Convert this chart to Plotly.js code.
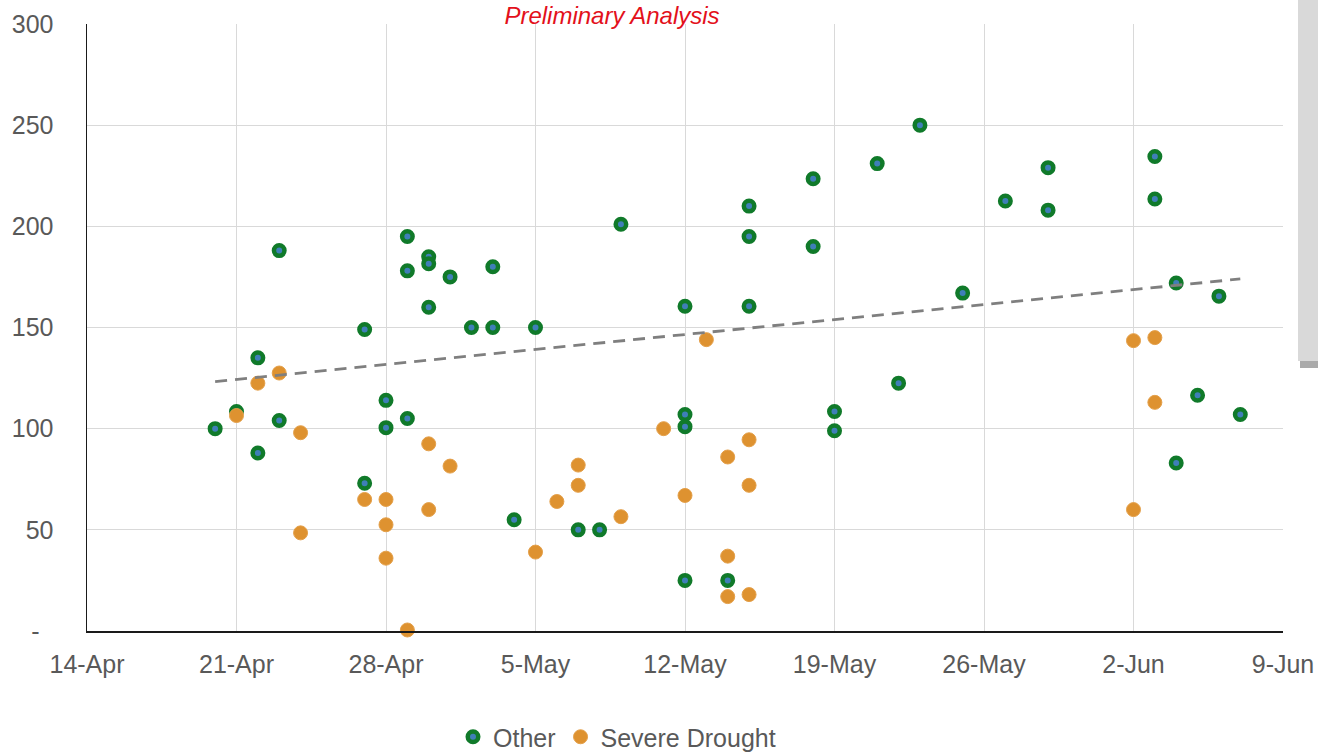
<!DOCTYPE html>
<html>
<head>
<meta charset="utf-8">
<script src="https://cdn.plot.ly/plotly-3.0.1.min.js"></script>
<style>
  html, body { margin: 0; padding: 0; background: #ffffff; }
  #chart { width: 1318px; height: 755px; }
</style>
</head>
<body>
<div id="chart"></div>
<script>
// ---- Data ----
const otherDates = [
  "2021-04-20","2021-04-21","2021-04-22","2021-04-22","2021-04-23","2021-04-23",
  "2021-04-27","2021-04-27","2021-04-28","2021-04-28","2021-04-29","2021-04-29","2021-04-29",
  "2021-04-30","2021-04-30","2021-04-30","2021-05-01","2021-05-02","2021-05-03","2021-05-03",
  "2021-05-04","2021-05-05","2021-05-07","2021-05-08","2021-05-09",
  "2021-05-12","2021-05-12","2021-05-12","2021-05-12","2021-05-14",
  "2021-05-15","2021-05-15","2021-05-15","2021-05-18","2021-05-18","2021-05-19","2021-05-19",
  "2021-05-21","2021-05-22","2021-05-23","2021-05-25","2021-05-27","2021-05-29","2021-05-29",
  "2021-06-03","2021-06-03","2021-06-04","2021-06-04","2021-06-05","2021-06-06","2021-06-07"
];
const otherValues = [
  100, 108.5, 135, 88, 188, 104,
  149, 73, 114, 100.5, 195, 178, 105,
  185, 181.5, 160, 175, 150, 180, 150,
  55, 150, 50, 50, 201,
  160.5, 107, 101, 25, 25,
  210, 195, 160.5, 223.5, 190, 108.5, 99,
  231, 122.5, 250, 167, 212.5, 229, 208,
  234.5, 213.5, 172, 83, 116.5, 165.5, 107
];

const droughtDates = [
  "2021-04-21","2021-04-22","2021-04-23","2021-04-24","2021-04-24",
  "2021-04-27","2021-04-28","2021-04-28","2021-04-28","2021-04-29",
  "2021-04-30","2021-04-30","2021-05-01","2021-05-05","2021-05-06",
  "2021-05-07","2021-05-07","2021-05-09","2021-05-11","2021-05-12","2021-05-13",
  "2021-05-14","2021-05-14","2021-05-14","2021-05-15","2021-05-15","2021-05-15",
  "2021-06-02","2021-06-02","2021-06-03","2021-06-03"
];
const droughtValues = [
  106.5, 122.5, 127.5, 98, 48.5,
  65, 65, 52.5, 36, 0.5,
  92.5, 60, 81.5, 39, 64,
  82, 72, 56.5, 100, 67, 144,
  86, 37, 17, 94.5, 72, 18,
  143.5, 60, 145, 113
];

// Trend line end points
const trendDates = ["2021-04-20", "2021-06-07"];
const trendValues = [123.3, 174];

const yTickVals = [0, 50, 100, 150, 200, 250, 300];
const yTickText = ["-\u00a0\u00a0", "50", "100", "150", "200", "250", "300"];

const seriesNames = ["Other", "Severe Drought"];
const chartTitle = "Preliminary Analysis";

// ---- Chart ----
const FONT = '"Liberation Sans", Arial, sans-serif';
const TXT = '#595959';

const traces = [
  {
    type: 'scatter', mode: 'markers', name: seriesNames[0],
    x: otherDates, y: otherValues,
    marker: { size: 10.5, color: '#3f7fb8', line: { color: '#107a2a', width: 4.5 } },
    cliponaxis: false
  },
  {
    type: 'scatter', mode: 'markers', name: seriesNames[1],
    x: droughtDates, y: droughtValues,
    marker: { size: 14, color: '#de9230', line: { color: '#e4a04a', width: 1 } },
    cliponaxis: false
  },
  {
    type: 'scatter', mode: 'lines', name: 'Trend', showlegend: false,
    x: trendDates, y: trendValues,
    line: { color: '#7f7f7f', width: 2.8, dash: '12px,8px' },
    hoverinfo: 'skip'
  }
];

const layout = {
  width: 1318, height: 755,
  margin: { l: 87, r: 35, t: 24, b: 124, pad: 0 },
  paper_bgcolor: '#ffffff', plot_bgcolor: '#ffffff',
  font: { family: FONT, size: 25, color: TXT },
  title: {
    text: chartTitle,
    font: { family: FONT, size: 24, color: '#e3101b', style: 'italic' },
    xref: 'container', yref: 'container',
    x: 612 / 1318, xanchor: 'center',
    y: 1 - 7 / 755, yanchor: 'top', pad: { t: 0, b: 0 }
  },
  xaxis: {
    type: 'date',
    range: ['2021-04-14', '2021-06-09'],
    tick0: '2021-04-14', dtick: 7 * 24 * 3600 * 1000,
    tickformat: '%-d-%b',
    showgrid: true, gridcolor: '#d9d9d9', gridwidth: 1,
    showline: true, linecolor: '#1a1a1a', linewidth: 2,
    zeroline: false, ticks: '',
    ticklabelstandoff: 10,
    tickfont: { family: FONT, size: 25, color: TXT },
    automargin: false, fixedrange: true
  },
  yaxis: {
    range: [0, 300],
    tickvals: yTickVals, ticktext: yTickText,
    showgrid: true, gridcolor: '#d9d9d9', gridwidth: 1,
    showline: true, linecolor: '#1a1a1a', linewidth: 1.5,
    zeroline: false, ticks: '',
    ticklabelstandoff: 27,
    tickfont: { family: FONT, size: 25, color: TXT },
    automargin: false, fixedrange: true
  },
  showlegend: true,
  legend: {
    orientation: 'h',
    xref: 'container', yref: 'container',
    x: 617 / 1318, xanchor: 'center',
    y: 1 - 737 / 755, yanchor: 'middle',
    font: { family: FONT, size: 25, color: TXT },
    itemwidth: 30, tracegroupgap: 0,
    bgcolor: 'rgba(0,0,0,0)'
  },
  shapes: [
    { type: 'rect', xref: 'paper', yref: 'paper', layer: 'above',
      x0: (1300 - 87) / 1196, x1: (1330 - 87) / 1196,
      y0: (631 - 368) / 607, y1: (631 + 10) / 607,
      fillcolor: 'rgba(100,100,100,0.55)', line: { width: 0 } },
    { type: 'rect', xref: 'paper', yref: 'paper', layer: 'above',
      x0: (1298 - 87) / 1196, x1: (1330 - 87) / 1196,
      y0: (631 - 361) / 607, y1: (631 + 10) / 607,
      fillcolor: '#d9d9d9', line: { width: 0 } }
  ]
};

Plotly.newPlot('chart', traces, layout, { displayModeBar: false, staticPlot: true });
</script>
</body>
</html>
